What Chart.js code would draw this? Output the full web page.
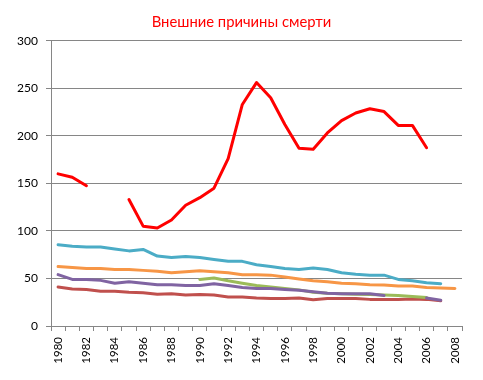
<!DOCTYPE html>
<html>
<head>
<meta charset="utf-8">
<script src="https://cdn.jsdelivr.net/npm/chart.js@4"></script>
<style>
html,body{margin:0;padding:0;background:#fff;}
#wrap{width:483px;height:380px;}
</style>
</head>
<body>
<div id="wrap"><canvas id="c" width="483" height="380"></canvas></div>
<script>
const years = ["1980","1981","1982","1983","1984","1985","1986","1987","1988","1989","1990","1991","1992","1993","1994","1995","1996","1997","1998","1999","2000","2001","2002","2003","2004","2005","2006","2007","2008"];
const redSeries = [160,156.5,147.5,null,null,133,105,103,111.5,127,135,145,176,233,256,240,212,187,186,203,216,224,228.5,225.5,211,211,187.5,null,null];
const tealSeries = [85.5,84,83,83,81,79,80.5,73.5,72,73,72,70,68,68,64.5,62.5,60.5,59.5,61,59.5,56,54.5,53.5,53.5,49,47.5,45.5,44.5,null];
const orangeSeries = [62.5,61.5,60.5,60.5,59.5,59.5,58.5,57.5,56,57,58,57,56,54,54,53.5,51.5,49.5,47.5,46.5,45,44.5,43.5,43,42,42,40.5,40,39.5];
const purpleSeries = [54,49,49,48,45,46.5,45,43.5,43.5,42.5,42.5,44.5,42.5,40.5,39.5,39.5,38.5,37.5,36,34.5,34,34,34,32,null,null,29.5,27,null];
const greenSeries = [null,null,null,null,null,null,null,null,null,null,49,50.5,47.5,45,42.5,41,39.5,38,35.5,34.5,34,33.5,33,32.5,32,31,30,null,null];
const brownSeries = [41,39,38.5,36.5,36.5,35.5,35,33.5,34,32.5,33,32.5,30.5,30.5,29.5,29,29,29.5,27.5,29,29,29,28,28,28,28.5,28,26.5,null];
const yTicks = [0,50,100,150,200,250,300];
const titleText = "Внешние причины смерти";

const FONT = "Lato, 'Open Sans', 'Liberation Sans', sans-serif";
const GRID = "#868686";
function ds(data, color){
  return {data, borderColor: color, backgroundColor: color, borderWidth: 3, pointRadius: 0, pointHoverRadius: 0,
    tension: 0, spanGaps: false, fill: false, borderCapStyle: 'round', borderJoinStyle: 'round', yAxisID: 'y'};
}
new Chart(document.getElementById('c'), {
  type: 'line',
  data: {
    labels: years,
    datasets: [
      ds(redSeries, '#FF0000'),
      ds(purpleSeries, '#8064A2'),
      ds(greenSeries, '#9BBB59'),
      ds(tealSeries, '#4BACC6'),
      ds(orangeSeries, '#F79646'),
      ds(brownSeries, '#C0504D')
    ]
  },
  options: {
    responsive: false,
    animation: false,
    events: [],
    layout: {padding: {left: 0, right: 0, top: 0, bottom: 0}},
    plugins: {
      legend: {display: false},
      tooltip: {enabled: false},
      title: {display: true, text: titleText, color: '#FF0000',
        font: {family: FONT, size: 14.8, weight: 'normal'}, padding: {top: 13, bottom: 10}}
    },
    scales: {
      x: {
        type: 'category',
        offset: true,
        grid: {offset: true, drawOnChartArea: false, color: GRID, tickLength: 5, lineWidth: 1},
        border: {color: GRID, width: 1},
        ticks: {autoSkip: false, maxRotation: 90, minRotation: 90, padding: 6, color: '#000',
          font: {family: FONT, size: 11.5},
          callback: function(v, i){ return i % 2 === 0 ? years[i] : ''; }},
        afterFit: function(s){ s.height = 54; }
      },
      y: {
        position: 'left',
        min: 0, max: 300,
        afterBuildTicks: function(s){ s.ticks = yTicks.map(v => ({value: v})); },
        grid: {color: GRID, tickLength: 5, lineWidth: 1},
        border: {color: GRID, width: 1},
        ticks: {padding: 8, color: '#000', font: {family: FONT, size: 12}},
        afterFit: function(s){ s.width = 51; }
      },
      yRight: {
        position: 'right',
        display: true,
        min: 0, max: 300,
        grid: {display: false},
        border: {display: false},
        ticks: {display: false},
        afterFit: function(s){ s.width = 21; }
      }
    }
  }
});
</script>
</body>
</html>
